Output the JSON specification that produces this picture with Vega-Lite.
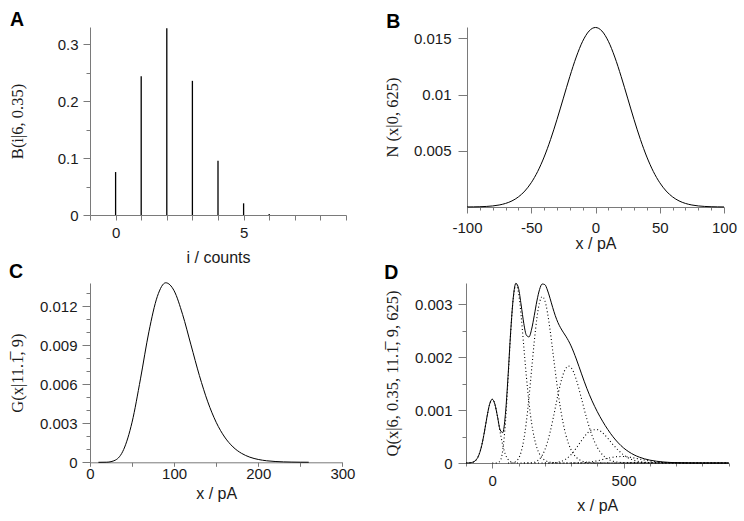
{
  "$schema": "https://vega.github.io/schema/vega-lite/v6.json",
  "padding": {"left": 9, "top": 9, "right": 2, "bottom": 2},
  "background": "white",
  "config": {
    "view": {"stroke": null},
    "font": "Liberation Sans",
    "axis": {"grid": false, "domainColor": "#7a7a7a", "tickColor": "#7a7a7a", "labelColor": "#1a1a1a", "labelFont": "Liberation Sans", "labelFontSize": 15, "titleFont": "Liberation Serif", "titleFontSize": 16.5, "titleFontWeight": "normal", "titleColor": "#1a1a1a", "labelFlush": false, "labelOverlap": false, "domainWidth": 1, "tickWidth": 1},
    "axisX": {"titleFont": "Liberation Sans", "titleFontSize": 16},
    "line": {"color": "#000", "strokeWidth": 1, "interpolate": "monotone"}
  },
  "spacing": -3,
  "vconcat": [
    {
      "spacing": 37,
      "hconcat": [
        {
          "title": {"text": "A", "fontSize": 19.5, "font": "Liberation Sans", "fontWeight": "bold", "anchor": "start", "frame": "group", "baseline": "alphabetic", "color": "#000", "dx": -80, "offset": -18},
          "width": 256, "height": 188,
          "data": {"values": [
            {"i": 0, "p": 0.0754}, {"i": 1, "p": 0.2437}, {"i": 2, "p": 0.3280},
            {"i": 3, "p": 0.2355}, {"i": 4, "p": 0.0951}, {"i": 5, "p": 0.0205}, {"i": 6, "p": 0.0018}
          ]},
          "mark": {"type": "rule", "strokeWidth": 1.3, "color": "#000"},
          "encoding": {
            "x": {"field": "i", "type": "quantitative", "scale": {"domain": [-1, 9], "nice": false, "zero": false},
              "axis": {"title": "i / counts", "values": [-1, 0, 1, 2, 3, 4, 5, 6, 7, 8, 9], "labelExpr": "datum.value % 5 === 0 ? '' + datum.value : ''", "tickSize": 5, "labelPadding": 5, "minExtent": 28, "maxExtent": 28, "titlePadding": 6}},
            "y": {"field": "p", "type": "quantitative", "scale": {"domain": [0, 0.33], "nice": false},
              "axis": {"title": "B(i|6, 0.35)", "values": [0, 0.05, 0.1, 0.15, 0.2, 0.25, 0.3], "labelExpr": "abs(datum.value*10 - round(datum.value*10)) < 1e-6 ? '' + datum.value : ''", "tickSize": {"condition": {"test": "abs(datum.value*10 - round(datum.value*10)) < 1e-6", "value": 7}, "value": 4}, "labelPadding": 5, "minExtent": 45, "maxExtent": 45, "titlePadding": 20}},
            "y2": {"datum": 0}
          }
        },
        {
          "title": {"text": "B", "fontSize": 19.5, "font": "Liberation Sans", "fontWeight": "bold", "anchor": "start", "frame": "group", "baseline": "alphabetic", "color": "#000", "dx": -80.7, "offset": -22},
          "width": 257, "height": 180,
          "data": {"values": [
            {"x": -100, "y": 0.0000053}, {"x": -95, "y": 0.0000117}, {"x": -90, "y": 0.0000245}, {"x": -85, "y": 0.0000493},
            {"x": -80, "y": 0.0000954}, {"x": -75, "y": 0.000177}, {"x": -70, "y": 0.000317}, {"x": -65, "y": 0.000543},
            {"x": -60, "y": 0.000896}, {"x": -55, "y": 0.001419}, {"x": -50, "y": 0.002160}, {"x": -45, "y": 0.003158},
            {"x": -40, "y": 0.004437}, {"x": -35, "y": 0.005989}, {"x": -30, "y": 0.007768}, {"x": -25, "y": 0.009679},
            {"x": -20, "y": 0.011588}, {"x": -15, "y": 0.013329}, {"x": -10, "y": 0.014731}, {"x": -5, "y": 0.015642},
            {"x": 0, "y": 0.015958},
            {"x": 5, "y": 0.015642}, {"x": 10, "y": 0.014731}, {"x": 15, "y": 0.013329}, {"x": 20, "y": 0.011588},
            {"x": 25, "y": 0.009679}, {"x": 30, "y": 0.007768}, {"x": 35, "y": 0.005989}, {"x": 40, "y": 0.004437},
            {"x": 45, "y": 0.003158}, {"x": 50, "y": 0.002160}, {"x": 55, "y": 0.001419}, {"x": 60, "y": 0.000896},
            {"x": 65, "y": 0.000543}, {"x": 70, "y": 0.000317}, {"x": 75, "y": 0.000177}, {"x": 80, "y": 0.0000954},
            {"x": 85, "y": 0.0000493}, {"x": 90, "y": 0.0000245}, {"x": 95, "y": 0.0000117}, {"x": 100, "y": 0.0000053}
          ]},
          "mark": {"type": "line"},
          "encoding": {
            "x": {"field": "x", "type": "quantitative", "scale": {"domain": [-100, 100], "nice": false, "zero": false},
              "axis": {"title": "x / pA", "values": [-100, -90, -80, -70, -60, -50, -40, -30, -20, -10, 0, 10, 20, 30, 40, 50, 60, 70, 80, 90, 100], "labelExpr": "datum.value % 50 === 0 ? '' + datum.value : ''", "tickSize": {"condition": {"test": "datum.value % 50 === 0", "value": 6}, "value": 3}, "labelPadding": 7, "minExtent": 26, "maxExtent": 26, "titlePadding": 2}},
            "y": {"field": "y", "type": "quantitative", "scale": {"domain": [0, 0.016], "nice": false},
              "axis": {"title": "N (x|0, 625)", "values": [0.005, 0.01, 0.015], "labelExpr": "'' + datum.value", "tickSize": 9, "labelPadding": 7, "minExtent": 47, "maxExtent": 47, "titlePadding": 20}}
          }
        }
      ]
    },
    {
      "spacing": 29,
      "hconcat": [
        {
          "title": {"text": "C", "fontSize": 19.5, "font": "Liberation Sans", "fontWeight": "bold", "anchor": "start", "frame": "group", "baseline": "alphabetic", "color": "#000", "dx": -81, "offset": -17},
          "width": 252.4, "height": 179.3,
          "data": {"values": [
            {"x": 10, "y": 0.00000002}, {"x": 20, "y": 0.0000082}, {"x": 30, "y": 0.0001627}, {"x": 40, "y": 0.0009822},
            {"x": 50, "y": 0.0030870}, {"x": 60, "y": 0.0064209}, {"x": 70, "y": 0.0100450}, {"x": 80, "y": 0.0127570},
            {"x": 90, "y": 0.0138170}, {"x": 100, "y": 0.0131990}, {"x": 110, "y": 0.0113890}, {"x": 120, "y": 0.0090374},
            {"x": 130, "y": 0.0066830}, {"x": 140, "y": 0.0046542}, {"x": 150, "y": 0.0030779}, {"x": 160, "y": 0.0019459},
            {"x": 170, "y": 0.0011824}, {"x": 180, "y": 0.0006938}, {"x": 190, "y": 0.0003945}, {"x": 200, "y": 0.0002182},
            {"x": 210, "y": 0.0001176}, {"x": 220, "y": 0.0000620}, {"x": 230, "y": 0.0000320}, {"x": 240, "y": 0.0000162},
            {"x": 250, "y": 0.0000081}, {"x": 260, "y": 0.0000039}
          ]},
          "mark": {"type": "line"},
          "encoding": {
            "x": {"field": "x", "type": "quantitative", "scale": {"domain": [0, 300], "nice": false, "zero": false},
              "axis": {"title": "x / pA", "values": [0, 50, 100, 150, 200, 250, 300], "labelExpr": "datum.value % 100 === 0 ? '' + datum.value : ''", "tickSize": 4, "labelPadding": 0, "minExtent": 20, "maxExtent": 20, "titlePadding": 3}},
            "y": {"field": "y", "type": "quantitative", "scale": {"domain": [0, 0.0138], "nice": false},
              "axis": {"title": "G(x|11.1\u0305, 9)", "values": [0, 0.001, 0.002, 0.003, 0.004, 0.005, 0.006, 0.007, 0.008, 0.009, 0.01, 0.011, 0.012, 0.013], "labelExpr": "abs(datum.value*1000/3 - round(datum.value*1000/3)) < 1e-6 ? '' + datum.value : ''", "tickSize": {"condition": {"test": "abs(datum.value*1000/3 - round(datum.value*1000/3)) < 1e-6", "value": 8}, "value": 4}, "labelPadding": 5, "minExtent": 45, "maxExtent": 45, "titlePadding": 20}}
          }
        },
        {
          "title": {"text": "D", "fontSize": 19.5, "font": "Liberation Sans", "fontWeight": "bold", "anchor": "start", "frame": "group", "baseline": "alphabetic", "color": "#000", "dx": -81.7, "offset": -17},
          "width": 262.6, "height": 180,
          "data": {"values": [
            {"c": "Q", "x": -100, "y": 0.0000004}, {"c": "Q", "x": -90, "y": 0.0000019}, {"c": "Q", "x": -80, "y": 0.0000072},
            {"c": "Q", "x": -70, "y": 0.0000239}, {"c": "Q", "x": -60, "y": 0.0000676}, {"c": "Q", "x": -50, "y": 0.0001629},
            {"c": "Q", "x": -40, "y": 0.0003346}, {"c": "Q", "x": -30, "y": 0.0005858}, {"c": "Q", "x": -20, "y": 0.0008739},
            {"c": "Q", "x": -10, "y": 0.0011110}, {"c": "Q", "x": 0, "y": 0.0012035}, {"c": "Q", "x": 10, "y": 0.0011110},
            {"c": "Q", "x": 20, "y": 0.0008759}, {"c": "Q", "x": 30, "y": 0.0006255}, {"c": "Q", "x": 40, "y": 0.0005740},
            {"c": "Q", "x": 50, "y": 0.0009151}, {"c": "Q", "x": 60, "y": 0.0016321}, {"c": "Q", "x": 70, "y": 0.0024727},
            {"c": "Q", "x": 80, "y": 0.0031224}, {"c": "Q", "x": 90, "y": 0.0033958}, {"c": "Q", "x": 100, "y": 0.0033006},
            {"c": "Q", "x": 110, "y": 0.0029842}, {"c": "Q", "x": 120, "y": 0.0026385}, {"c": "Q", "x": 130, "y": 0.0024141},
            {"c": "Q", "x": 140, "y": 0.0023818}, {"c": "Q", "x": 150, "y": 0.0025294}, {"c": "Q", "x": 160, "y": 0.0027861},
            {"c": "Q", "x": 170, "y": 0.0030611}, {"c": "Q", "x": 180, "y": 0.0032747}, {"c": "Q", "x": 190, "y": 0.0033805},
            {"c": "Q", "x": 200, "y": 0.0033707}, {"c": "Q", "x": 210, "y": 0.0032680}, {"c": "Q", "x": 220, "y": 0.0031110},
            {"c": "Q", "x": 230, "y": 0.0029391}, {"c": "Q", "x": 240, "y": 0.0027826}, {"c": "Q", "x": 250, "y": 0.0026542},
            {"c": "Q", "x": 260, "y": 0.0025546}, {"c": "Q", "x": 270, "y": 0.0024720}, {"c": "Q", "x": 280, "y": 0.0023957},
            {"c": "Q", "x": 290, "y": 0.0023115}, {"c": "Q", "x": 300, "y": 0.0022120}, {"c": "Q", "x": 320, "y": 0.0019648},
            {"c": "Q", "x": 340, "y": 0.0016835}, {"c": "Q", "x": 360, "y": 0.0014116}, {"c": "Q", "x": 380, "y": 0.0011740},
            {"c": "Q", "x": 400, "y": 0.0009691}, {"c": "Q", "x": 420, "y": 0.0007898}, {"c": "Q", "x": 440, "y": 0.0006320},
            {"c": "Q", "x": 460, "y": 0.0004946}, {"c": "Q", "x": 480, "y": 0.0003791}, {"c": "Q", "x": 500, "y": 0.0002848},
            {"c": "Q", "x": 520, "y": 0.0002114}, {"c": "Q", "x": 540, "y": 0.0001537}, {"c": "Q", "x": 560, "y": 0.0001106},
            {"c": "Q", "x": 580, "y": 0.0000782}, {"c": "Q", "x": 600, "y": 0.0000542}, {"c": "Q", "x": 650, "y": 0.0000197},
            {"c": "Q", "x": 700, "y": 0.0000062}, {"c": "Q", "x": 750, "y": 0.0000017}, {"c": "Q", "x": 800, "y": 0.0000004},
            {"c": "Q", "x": 900, "y": 0},

            {"c": "0", "x": -100, "y": 0.0000004}, {"c": "0", "x": -90, "y": 0.0000019}, {"c": "0", "x": -80, "y": 0.0000072},
            {"c": "0", "x": -70, "y": 0.0000239}, {"c": "0", "x": -60, "y": 0.0000676}, {"c": "0", "x": -50, "y": 0.0001629},
            {"c": "0", "x": -40, "y": 0.0003346}, {"c": "0", "x": -30, "y": 0.0005858}, {"c": "0", "x": -20, "y": 0.0008739},
            {"c": "0", "x": -10, "y": 0.0011110}, {"c": "0", "x": 0, "y": 0.0012035}, {"c": "0", "x": 10, "y": 0.0011110},
            {"c": "0", "x": 20, "y": 0.0008739}, {"c": "0", "x": 30, "y": 0.0005858}, {"c": "0", "x": 40, "y": 0.0003346},
            {"c": "0", "x": 50, "y": 0.0001629}, {"c": "0", "x": 60, "y": 0.0000676}, {"c": "0", "x": 70, "y": 0.0000239},
            {"c": "0", "x": 80, "y": 0.0000072}, {"c": "0", "x": 90, "y": 0.0000019}, {"c": "0", "x": 100, "y": 0.0000004},
            {"c": "0", "x": 900, "y": 0},

            {"c": "1", "x": 0, "y": 0}, {"c": "1", "x": 10, "y": 0}, {"c": "1", "x": 20, "y": 0.000002},
            {"c": "1", "x": 30, "y": 0.0000396}, {"c": "1", "x": 40, "y": 0.0002393}, {"c": "1", "x": 50, "y": 0.0007522},
            {"c": "1", "x": 60, "y": 0.0015645}, {"c": "1", "x": 70, "y": 0.0024476}, {"c": "1", "x": 80, "y": 0.0031084},
            {"c": "1", "x": 90, "y": 0.0033667}, {"c": "1", "x": 100, "y": 0.0032161}, {"c": "1", "x": 110, "y": 0.0027751},
            {"c": "1", "x": 120, "y": 0.0022021}, {"c": "1", "x": 130, "y": 0.0016284}, {"c": "1", "x": 140, "y": 0.0011341},
            {"c": "1", "x": 150, "y": 0.0007500}, {"c": "1", "x": 160, "y": 0.0004741}, {"c": "1", "x": 170, "y": 0.0002881},
            {"c": "1", "x": 180, "y": 0.0001691}, {"c": "1", "x": 190, "y": 0.0000961}, {"c": "1", "x": 200, "y": 0.0000532},
            {"c": "1", "x": 210, "y": 0.0000287}, {"c": "1", "x": 220, "y": 0.0000151}, {"c": "1", "x": 230, "y": 0.0000078},
            {"c": "1", "x": 240, "y": 0.0000039}, {"c": "1", "x": 250, "y": 0.000002}, {"c": "1", "x": 260, "y": 0.000001},
            {"c": "1", "x": 900, "y": 0},

            {"c": "2", "x": 60, "y": 0.0000001}, {"c": "2", "x": 70, "y": 0.0000012}, {"c": "2", "x": 80, "y": 0.0000068},
            {"c": "2", "x": 90, "y": 0.0000273}, {"c": "2", "x": 100, "y": 0.0000841}, {"c": "2", "x": 110, "y": 0.0002091},
            {"c": "2", "x": 120, "y": 0.0004363}, {"c": "2", "x": 130, "y": 0.0007852}, {"c": "2", "x": 140, "y": 0.0012459},
            {"c": "2", "x": 150, "y": 0.0017734}, {"c": "2", "x": 160, "y": 0.0022966}, {"c": "2", "x": 170, "y": 0.0027372},
            {"c": "2", "x": 180, "y": 0.0030309}, {"c": "2", "x": 190, "y": 0.0031430}, {"c": "2", "x": 200, "y": 0.0030729},
            {"c": "2", "x": 210, "y": 0.0028491}, {"c": "2", "x": 220, "y": 0.0025172}, {"c": "2", "x": 230, "y": 0.0021282},
            {"c": "2", "x": 240, "y": 0.0017288}, {"c": "2", "x": 250, "y": 0.0013534}, {"c": "2", "x": 260, "y": 0.0010242},
            {"c": "2", "x": 270, "y": 0.0007511}, {"c": "2", "x": 280, "y": 0.0005350}, {"c": "2", "x": 290, "y": 0.0003709},
            {"c": "2", "x": 300, "y": 0.0002507}, {"c": "2", "x": 320, "y": 0.0001069}, {"c": "2", "x": 340, "y": 0.0000419},
            {"c": "2", "x": 360, "y": 0.0000153}, {"c": "2", "x": 380, "y": 0.0000052}, {"c": "2", "x": 400, "y": 0.0000017},
            {"c": "2", "x": 900, "y": 0},

            {"c": "3", "x": 120, "y": 0.0000001}, {"c": "3", "x": 140, "y": 0.0000019}, {"c": "3", "x": 160, "y": 0.0000153},
            {"c": "3", "x": 170, "y": 0.0000358}, {"c": "3", "x": 180, "y": 0.0000747}, {"c": "3", "x": 190, "y": 0.0001413},
            {"c": "3", "x": 200, "y": 0.0002443}, {"c": "3", "x": 210, "y": 0.0003896}, {"c": "3", "x": 220, "y": 0.0005771},
            {"c": "3", "x": 230, "y": 0.0007996}, {"c": "3", "x": 240, "y": 0.0010422}, {"c": "3", "x": 250, "y": 0.0012843},
            {"c": "3", "x": 260, "y": 0.0015026}, {"c": "3", "x": 270, "y": 0.0016760}, {"c": "3", "x": 280, "y": 0.0017882},
            {"c": "3", "x": 290, "y": 0.0018307}, {"c": "3", "x": 300, "y": 0.0018035}, {"c": "3", "x": 320, "y": 0.0015749},
            {"c": "3", "x": 340, "y": 0.0012119}, {"c": "3", "x": 360, "y": 0.0008337}, {"c": "3", "x": 380, "y": 0.0005190},
            {"c": "3", "x": 400, "y": 0.0002953}, {"c": "3", "x": 420, "y": 0.0001550}, {"c": "3", "x": 440, "y": 0.0000756},
            {"c": "3", "x": 460, "y": 0.0000345}, {"c": "3", "x": 480, "y": 0.0000148}, {"c": "3", "x": 500, "y": 0.0000060},
            {"c": "3", "x": 520, "y": 0.0000023}, {"c": "3", "x": 900, "y": 0},

            {"c": "4", "x": 200, "y": 0.0000002}, {"c": "4", "x": 220, "y": 0.0000016}, {"c": "4", "x": 240, "y": 0.0000076},
            {"c": "4", "x": 260, "y": 0.0000268}, {"c": "4", "x": 280, "y": 0.0000726}, {"c": "4", "x": 300, "y": 0.0001574},
            {"c": "4", "x": 320, "y": 0.0002816}, {"c": "4", "x": 340, "y": 0.0004250}, {"c": "4", "x": 360, "y": 0.0005517},
            {"c": "4", "x": 380, "y": 0.0006262}, {"c": "4", "x": 400, "y": 0.0006301}, {"c": "4", "x": 420, "y": 0.0005686},
            {"c": "4", "x": 440, "y": 0.0004650}, {"c": "4", "x": 460, "y": 0.0003476}, {"c": "4", "x": 480, "y": 0.0002393},
            {"c": "4", "x": 500, "y": 0.0001530}, {"c": "4", "x": 520, "y": 0.0000911}, {"c": "4", "x": 540, "y": 0.0000509},
            {"c": "4", "x": 560, "y": 0.0000268}, {"c": "4", "x": 580, "y": 0.0000133}, {"c": "4", "x": 600, "y": 0.0000063},
            {"c": "4", "x": 650, "y": 0.0000008}, {"c": "4", "x": 900, "y": 0},

            {"c": "5", "x": 300, "y": 0.0000004}, {"c": "5", "x": 340, "y": 0.0000047}, {"c": "5", "x": 380, "y": 0.0000236},
            {"c": "5", "x": 400, "y": 0.0000420}, {"c": "5", "x": 420, "y": 0.0000652}, {"c": "5", "x": 440, "y": 0.0000894},
            {"c": "5", "x": 460, "y": 0.0001095}, {"c": "5", "x": 480, "y": 0.0001210}, {"c": "5", "x": 500, "y": 0.0001216},
            {"c": "5", "x": 520, "y": 0.0001120}, {"c": "5", "x": 540, "y": 0.0000951}, {"c": "5", "x": 560, "y": 0.0000749},
            {"c": "5", "x": 580, "y": 0.0000551}, {"c": "5", "x": 600, "y": 0.0000380}, {"c": "5", "x": 650, "y": 0.0000116},
            {"c": "5", "x": 700, "y": 0.0000025}, {"c": "5", "x": 750, "y": 0.0000004}, {"c": "5", "x": 900, "y": 0},

            {"c": "6", "x": 500, "y": 0.0000042}, {"c": "6", "x": 540, "y": 0.0000077}, {"c": "6", "x": 580, "y": 0.0000099},
            {"c": "6", "x": 600, "y": 0.0000100}, {"c": "6", "x": 650, "y": 0.0000074}, {"c": "6", "x": 700, "y": 0.0000037},
            {"c": "6", "x": 750, "y": 0.0000013}, {"c": "6", "x": 800, "y": 0.0000004}, {"c": "6", "x": 900, "y": 0}
          ]},
          "encoding": {
            "x": {"field": "x", "type": "quantitative", "scale": {"domain": [-100, 900], "nice": false, "zero": false},
              "axis": {"title": "x / pA", "values": [-100, 0, 100, 200, 300, 400, 500, 600, 700, 800, 900], "labelExpr": "datum.value % 500 === 0 ? '' + datum.value : ''", "tickSize": {"condition": {"test": "datum.value % 500 === 0", "value": 5}, "value": 3}, "labelPadding": 5, "minExtent": 28, "maxExtent": 28, "titlePadding": 6}},
            "y": {"field": "y", "type": "quantitative", "scale": {"domain": [0, 0.0034], "nice": false},
              "axis": {"title": "Q(x|6, 0.35, 11.1\u0305, 9, 625)", "values": [0, 0.0005, 0.001, 0.0015, 0.002, 0.0025, 0.003], "labelExpr": "abs(datum.value*1000 - round(datum.value*1000)) < 1e-6 ? '' + datum.value : ''", "tickSize": {"condition": {"test": "abs(datum.value*1000 - round(datum.value*1000)) < 1e-6", "value": 8}, "value": 4}, "labelPadding": 6, "minExtent": 46, "maxExtent": 46, "titlePadding": 20}}
          },
          "layer": [
            {
              "transform": [{"filter": "datum.c !== 'Q'"}],
              "mark": {"type": "line", "strokeDash": [1, 2.5], "strokeWidth": 1.1, "color": "#000", "interpolate": "monotone"},
              "encoding": {"detail": {"field": "c", "type": "nominal"}}
            },
            {
              "transform": [{"filter": "datum.c === 'Q'"}],
              "mark": {"type": "line", "color": "#000", "strokeWidth": 1, "interpolate": "monotone"}
            }
          ]
        }
      ]
    }
  ]
}
